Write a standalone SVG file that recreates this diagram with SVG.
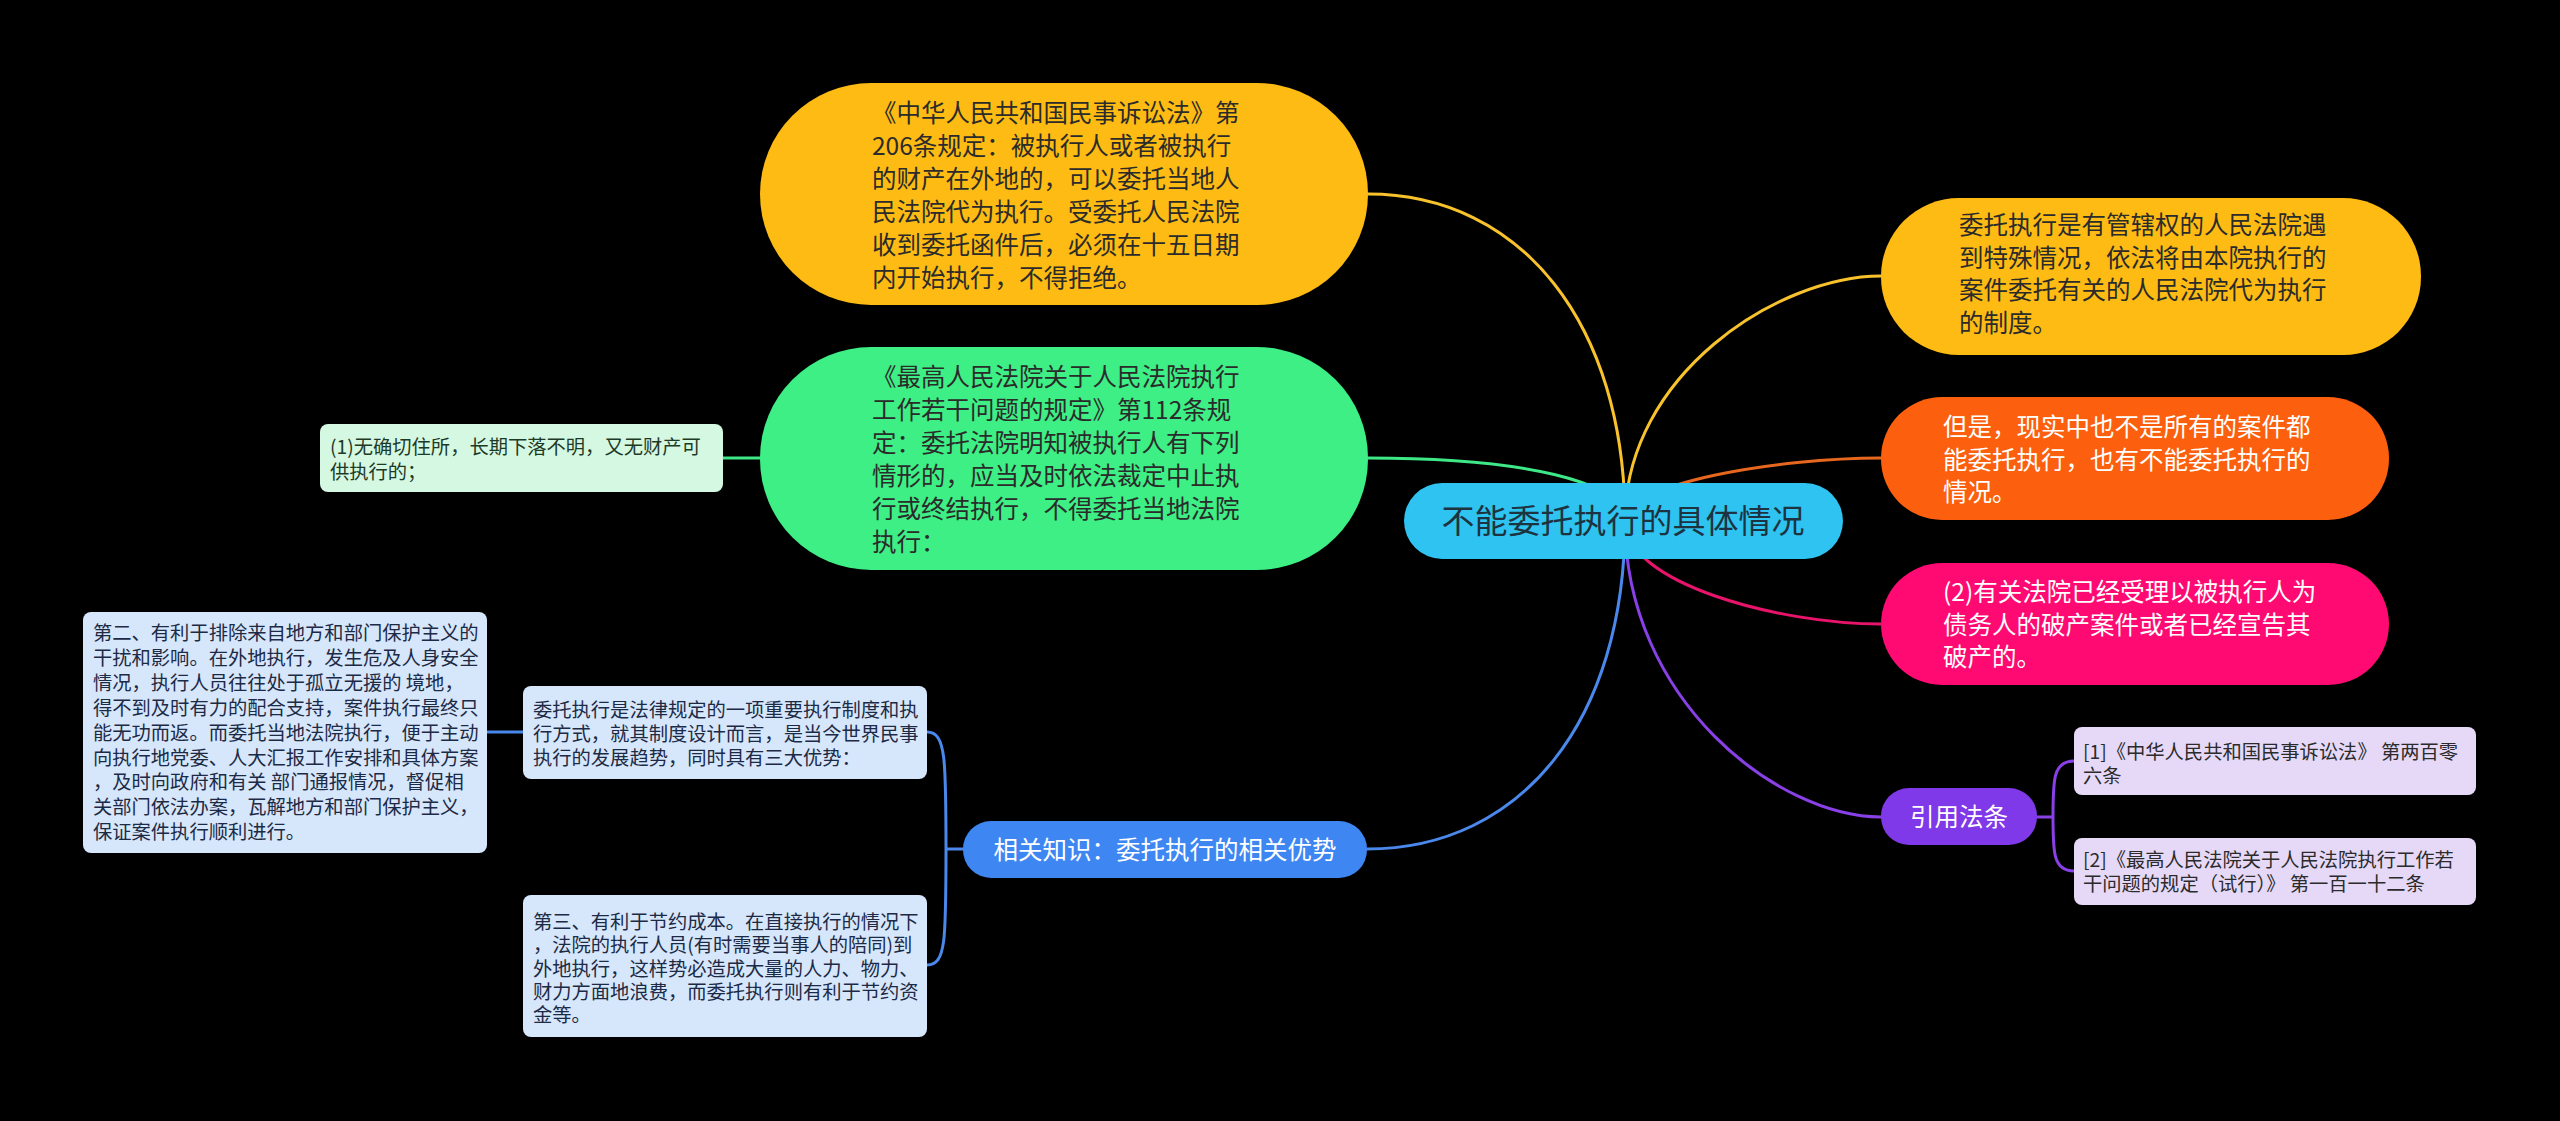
<svg xmlns="http://www.w3.org/2000/svg" width="2560" height="1121" viewBox="0 0 2560 1121">
<style>
text{font-family:"Noto Sans CJK SC","Noto Sans",sans-serif;}
.big{font-size:24.5px;}
.sm{font-size:19.3px;}
.dark{fill:#2b2b2b;}
.white{fill:#ffffff;}
.con{fill:none;stroke-width:3;stroke-linecap:round;}
</style>
<rect x="0" y="0" width="2560" height="1121" fill="#000000"/>
<g id="connectors">
<path class="con" stroke="#F7C22B" d="M1625,521 C1625,325 1522,194 1368,194"/>
<path class="con" stroke="#3FE886" d="M1625,521 C1625,481 1522,458 1368,458"/>
<path class="con" stroke="#F7C22B" d="M1625,521 C1625,375 1778,276 1881,276"/>
<path class="con" stroke="#E8671E" d="M1625,521 C1625,483 1778,458 1881,458"/>
<path class="con" stroke="#E8146C" d="M1625,521 C1625,583 1778,624 1881,624"/>
<path class="con" stroke="#8940E6" d="M1625,521 C1625,700 1778,817 1881,817"/>
<path class="con" stroke="#4A88EC" d="M1625,521 C1625,720 1522,849 1367,849"/>
<path class="con" stroke="#3FE886" d="M760,458 L723,458"/>
<path class="con" stroke="#4A88EC" d="M963,849 L946,849 M946,849 C946,760 946,732 927,732 M946,849 C946,940 946,965 927,965 M523,732 L487,732"/>
<path class="con" stroke="#8940E6" d="M2037,817 L2053,817 M2053,817 C2053,780 2053,761 2074,761 M2053,817 C2053,852 2053,871 2074,871"/>
</g>
<g id="root">
<rect x="1404" y="483" width="439" height="76" rx="38" fill="#2EC3F0"/>
<text x="1623" y="533" font-size="33" fill="#1e3340" text-anchor="middle">不能委托执行的具体情况</text>
</g>
<g id="node-civil-law">
<rect x="760" y="83" width="608" height="222" rx="111" fill="#FDBB13"/>
<text class="big dark" y="122"><tspan x="872">《中华人民共和国民事诉讼法》第</tspan><tspan x="872" dy="33">206条规定：被执行人或者被执行</tspan><tspan x="872" dy="33">的财产在外地的，可以委托当地人</tspan><tspan x="872" dy="33">民法院代为执行。受委托人民法院</tspan><tspan x="872" dy="33">收到委托函件后，必须在十五日期</tspan><tspan x="872" dy="33">内开始执行，不得拒绝。</tspan></text>
</g>
<g id="node-supreme-court">
<rect x="760" y="347" width="608" height="223" rx="111" fill="#3DEF84"/>
<text class="big dark" y="386"><tspan x="872">《最高人民法院关于人民法院执行</tspan><tspan x="872" dy="33">工作若干问题的规定》第112条规</tspan><tspan x="872" dy="33">定：委托法院明知被执行人有下列</tspan><tspan x="872" dy="33">情形的，应当及时依法裁定中止执</tspan><tspan x="872" dy="33">行或终结执行，不得委托当地法院</tspan><tspan x="872" dy="33">执行：</tspan></text>
</g>
<g id="node-item1">
<rect x="320" y="424" width="403" height="68" rx="8" fill="#D4F8E2"/>
<text class="sm" fill="#1d3a27" y="454"><tspan x="330">(1)无确切住所，长期下落不明，又无财产可</tspan><tspan x="330" dy="25">供执行的；</tspan></text>
</g>
<g id="node-definition">
<rect x="1881" y="198" width="540" height="157" rx="78" fill="#FDBB13"/>
<text class="big dark" y="234"><tspan x="1959">委托执行是有管辖权的人民法院遇</tspan><tspan x="1959" dy="32.7">到特殊情况，依法将由本院执行的</tspan><tspan x="1959" dy="32.7">案件委托有关的人民法院代为执行</tspan><tspan x="1959" dy="32.7">的制度。</tspan></text>
</g>
<g id="node-but">
<rect x="1881" y="397" width="508" height="123" rx="61" fill="#FC5F0D"/>
<text class="big white" y="436"><tspan x="1943">但是，现实中也不是所有的案件都</tspan><tspan x="1943" dy="32.5">能委托执行，也有不能委托执行的</tspan><tspan x="1943" dy="32.5">情况。</tspan></text>
</g>
<g id="node-item2">
<rect x="1881" y="563" width="508" height="122" rx="61" fill="#FE0A72"/>
<text class="big white" y="601"><tspan x="1943">(2)有关法院已经受理以被执行人为</tspan><tspan x="1943" dy="32.5">债务人的破产案件或者已经宣告其</tspan><tspan x="1943" dy="32.5">破产的。</tspan></text>
</g>
<g id="node-citations">
<rect x="1881" y="788" width="156" height="57" rx="28" fill="#8039E8"/>
<text x="1959" y="826" font-size="24.5" class="white" text-anchor="middle">引用法条</text>
</g>
<g id="node-ref1">
<rect x="2074" y="727" width="402" height="68" rx="8" fill="#E6D9F8"/>
<text class="sm dark" y="759"><tspan x="2083">[1]《中华人民共和国民事诉讼法》 第两百零</tspan><tspan x="2083" dy="23.5">六条</tspan></text>
</g>
<g id="node-ref2">
<rect x="2074" y="838" width="402" height="67" rx="8" fill="#E6D9F8"/>
<text class="sm dark" y="867"><tspan x="2083">[2]《最高人民法院关于人民法院执行工作若</tspan><tspan x="2083" dy="24">干问题的规定（试行）》 第一百一十二条</tspan></text>
</g>
<g id="node-related">
<rect x="963" y="821" width="404" height="57" rx="28" fill="#3E86F2"/>
<text x="1165" y="859" font-size="24.5" class="white" text-anchor="middle">相关知识：委托执行的相关优势</text>
</g>
<g id="node-intro">
<rect x="523" y="686" width="404" height="93" rx="8" fill="#D6E6FB"/>
<text class="sm" fill="#1c2a45" y="717"><tspan x="533">委托执行是法律规定的一项重要执行制度和执</tspan><tspan x="533" dy="24">行方式，就其制度设计而言，是当今世界民事</tspan><tspan x="533" dy="24">执行的发展趋势，同时具有三大优势：</tspan></text>
</g>
<g id="node-second">
<rect x="83" y="612" width="404" height="241" rx="8" fill="#D6E6FB"/>
<text class="sm" fill="#1c2a45" y="640"><tspan x="93">第二、有利于排除来自地方和部门保护主义的</tspan><tspan x="93" dy="24.9">干扰和影响。在外地执行，发生危及人身安全</tspan><tspan x="93" dy="24.9">情况，执行人员往往处于孤立无援的 境地，</tspan><tspan x="93" dy="24.9">得不到及时有力的配合支持，案件执行最终只</tspan><tspan x="93" dy="24.9">能无功而返。而委托当地法院执行，便于主动</tspan><tspan x="93" dy="24.9">向执行地党委、人大汇报工作安排和具体方案</tspan><tspan x="93" dy="24.9">，及时向政府和有关 部门通报情况，督促相</tspan><tspan x="93" dy="24.9">关部门依法办案，瓦解地方和部门保护主义，</tspan><tspan x="93" dy="24.9">保证案件执行顺利进行。</tspan></text>
</g>
<g id="node-third">
<rect x="523" y="895" width="404" height="142" rx="8" fill="#D6E6FB"/>
<text class="sm" fill="#1c2a45" y="929"><tspan x="533">第三、有利于节约成本。在直接执行的情况下</tspan><tspan x="533" dy="23.3">，法院的执行人员(有时需要当事人的陪同)到</tspan><tspan x="533" dy="23.3">外地执行，这样势必造成大量的人力、物力、</tspan><tspan x="533" dy="23.3">财力方面地浪费，而委托执行则有利于节约资</tspan><tspan x="533" dy="23.3">金等。</tspan></text>
</g>
</svg>
